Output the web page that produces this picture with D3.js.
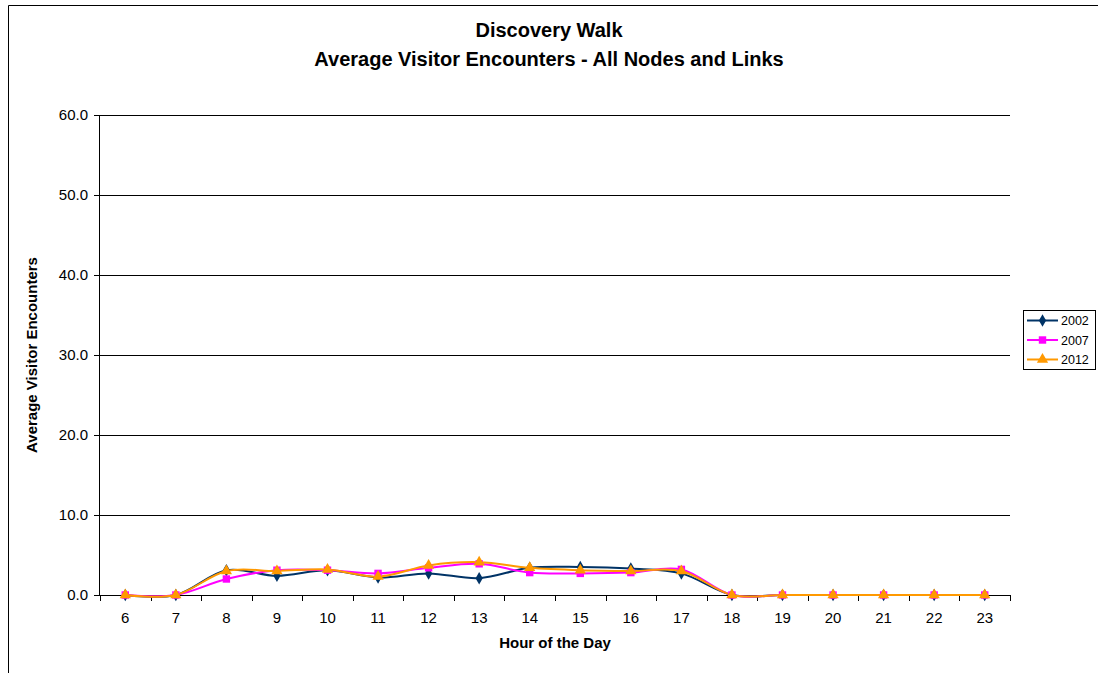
<!DOCTYPE html>
<html>
<head>
<meta charset="utf-8">
<script src="https://cdn.jsdelivr.net/npm/d3@7"></script>
<style>
  body { margin: 0; background: #fff; }
  svg { font-family: Arial, "Liberation Sans", sans-serif; }
</style>
</head>
<body>
<div id="chart"></div>
<script>
// Data
const hours = ['6', '7', '8', '9', '10', '11', '12', '13', '14', '15', '16', '17', '18', '19', '20', '21', '22', '23'];
const y2002 = [0, 0, 3.1, 2.4, 3.1, 2.2, 2.7, 2.1, 3.4, 3.5, 3.3, 2.7, 0, 0, 0, 0, 0, 0];
const y2007 = [0, 0, 2.0, 3.1, 3.1, 2.7, 3.4, 3.9, 2.8, 2.7, 2.8, 3.2, 0, 0, 0, 0, 0, 0];
const y2012 = [0, 0, 3.0, 3.0, 3.2, 2.3, 3.7, 4.1, 3.4, 3.1, 3.0, 3.0, 0, 0, 0, 0, 0, 0];
const yTicks = [0, 10, 20, 30, 40, 50, 60];

const series = [
  { name: '2002', values: y2002, color: '#003366', symbol: d3.symbolDiamond, size: 45 },
  { name: '2007', values: y2007, color: '#FF00FF', symbol: d3.symbolSquare, size: 55 },
  { name: '2012', values: y2012, color: '#FF9900', symbol: d3.symbolTriangle, size: 55 }
];

const width = 1098, height = 673;
const margin = { top: 115, right: 88, bottom: 78, left: 100 };
const innerWidth = width - margin.left - margin.right;
const innerHeight = height - margin.top - margin.bottom;

const svg = d3.select('#chart')
  .append('svg')
  .attr('width', width)
  .attr('height', height);

// Outer chart border: only left and top edges are inside the window
svg.append('path')
  .attr('d', `M8.5,${height}V5.5H${width}`)
  .attr('fill', 'none').attr('stroke', '#000').attr('stroke-width', 1);

const g = svg.append('g')
  .attr('transform', `translate(${margin.left},${margin.top})`);

const x = d3.scaleBand().domain(hours).range([0, innerWidth]).padding(0);
const y = d3.scaleLinear().domain([0, 60]).range([innerHeight, 0]);

// Gridlines
g.selectAll('.grid')
  .data(yTicks.filter(d => d > 0))
  .join('line')
  .attr('x1', 0).attr('x2', innerWidth)
  .attr('y1', d => Math.round(y(d)) + 0.5).attr('y2', d => Math.round(y(d)) + 0.5)
  .attr('stroke', '#000').attr('stroke-width', 1);

// Y axis
const yAxis = g.append('g')
  .call(d3.axisLeft(y).tickValues(yTicks).tickFormat(d3.format('.1f')).tickSize(6).tickPadding(6));
yAxis.selectAll('text').attr('font-size', 15).attr('fill', '#000');
yAxis.selectAll('line, path').attr('stroke', '#000');
yAxis.select('.domain').attr('d', `M-0.5,0V${innerHeight}`);

// X axis (labels centred in bands, ticks at band boundaries)
const xAxis = g.append('g')
  .attr('transform', `translate(0,${innerHeight})`)
  .call(d3.axisBottom(x).tickSize(0).tickPadding(17));
xAxis.selectAll('text').attr('font-size', 15).attr('fill', '#000');
xAxis.select('.domain').attr('stroke', '#000');
const boundaries = hours.map(h => x(h)).concat([innerWidth]);
xAxis.selectAll('.bound')
  .data(boundaries)
  .join('line')
  .attr('x1', d => Math.round(d) + 0.5).attr('x2', d => Math.round(d) + 0.5)
  .attr('y1', 0).attr('y2', 6)
  .attr('stroke', '#000');

// Lines
const line = d3.line()
  .x((d, i) => x(hours[i]) + x.bandwidth() / 2)
  .y(d => y(d))
  .curve(d3.curveCatmullRom.alpha(0));

series.forEach(s => {
  g.append('path')
    .datum(s.values)
    .attr('d', line)
    .attr('fill', 'none')
    .attr('stroke', s.color)
    .attr('stroke-width', 2);
});

series.forEach(s => {
  g.selectAll(null)
    .data(s.values)
    .join('path')
    .attr('d', d3.symbol().type(s.symbol).size(s.size))
    .attr('transform', (d, i) => `translate(${x(hours[i]) + x.bandwidth() / 2},${y(d)})`)
    .attr('fill', s.color);
});

// Titles
svg.append('text')
  .attr('x', 549).attr('y', 37)
  .attr('text-anchor', 'middle')
  .attr('font-size', 20).attr('font-weight', 'bold')
  .text('Discovery Walk');
svg.append('text')
  .attr('x', 549).attr('y', 66)
  .attr('text-anchor', 'middle')
  .attr('font-size', 20).attr('font-weight', 'bold')
  .text('Average Visitor Encounters - All Nodes and Links');

svg.append('text')
  .attr('transform', `translate(37,${margin.top + innerHeight / 2}) rotate(-90)`)
  .attr('text-anchor', 'middle')
  .attr('font-size', 15).attr('font-weight', 'bold')
  .text('Average Visitor Encounters');

svg.append('text')
  .attr('x', margin.left + innerWidth / 2).attr('y', 648)
  .attr('text-anchor', 'middle')
  .attr('font-size', 15).attr('font-weight', 'bold')
  .text('Hour of the Day');

// Legend
const legend = svg.append('g').attr('transform', 'translate(1023,310)');
legend.append('rect')
  .attr('x', 0.5).attr('y', 0.5).attr('width', 72).attr('height', 59)
  .attr('fill', '#fff').attr('stroke', '#000');
series.forEach((s, i) => {
  const ly = 10.5 + i * 19.5;
  legend.append('line')
    .attr('x1', 4).attr('x2', 35).attr('y1', ly).attr('y2', ly)
    .attr('stroke', s.color).attr('stroke-width', 2);
  legend.append('path')
    .attr('d', d3.symbol().type(s.symbol).size(s.size))
    .attr('transform', `translate(19.5,${ly})`)
    .attr('fill', s.color);
  legend.append('text')
    .attr('x', 38).attr('y', ly + 4.5)
    .attr('font-size', 12.5)
    .text(s.name);
});
</script>
</body>
</html>
